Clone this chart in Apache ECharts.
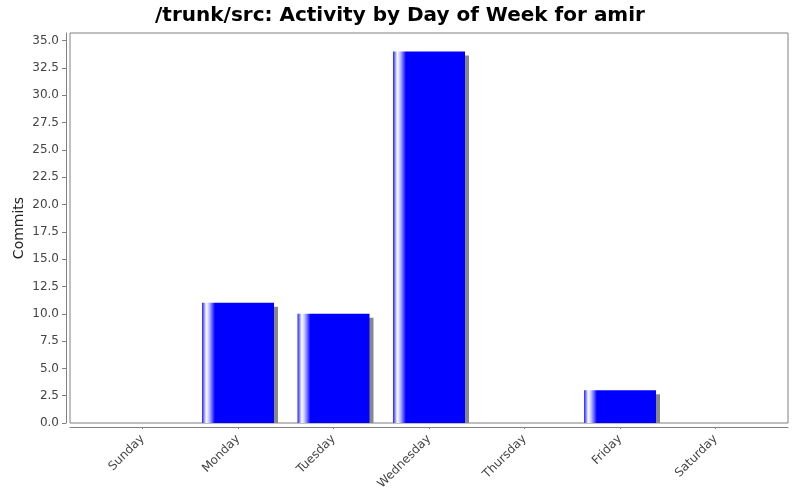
<!DOCTYPE html>
<html>
<head>
<meta charset="utf-8">
<script src="https://cdn.jsdelivr.net/npm/echarts@6/dist/echarts.min.js"></script>
<style>html,body{margin:0;padding:0;background:#fff}#c{width:800px;height:500px}</style>
</head>
<body>
<div id="c"></div>
<script>
const categories = ['Sunday', 'Monday', 'Tuesday', 'Wednesday', 'Thursday', 'Friday', 'Saturday'];
const commits = [0, 11, 10, 34, 0, 3, 0];
const yTicks = [0, 2.5, 5, 7.5, 10, 12.5, 15, 17.5, 20, 22.5, 25, 27.5, 30, 32.5, 35];
const yMax = 35.7;

const font = 'DejaVu Sans';
const barFill = new echarts.graphic.LinearGradient(0, 0, 1, 0, [
  { offset: 0, color: '#2020ff' },
  { offset: 0.06, color: '#ffffff' },
  { offset: 0.1, color: '#c0c0ff' },
  { offset: 0.18, color: '#0000ff' },
  { offset: 1, color: '#0000ff' }
]);

function renderBar(params, api) {
  const idx = api.value(0);
  const val = api.value(1);
  if (!val) return null;
  const top = api.coord([idx, val]);
  const base = api.coord([idx, 0]);
  const band = api.size([1, 0])[0];
  const w = band * 0.754;
  const x = top[0] - w / 2;
  const h = base[1] - top[1];
  return {
    type: 'group',
    children: [
      { type: 'rect', shape: { x: x + 4, y: top[1] + 4, width: w, height: Math.max(h - 4, 0) },
        style: { fill: '#888888' } },
      { type: 'rect', shape: { x: x, y: top[1], width: w, height: h },
        style: { fill: barFill } }
    ]
  };
}

const chart = echarts.init(document.getElementById('c'));
chart.setOption({
  animation: false,
  backgroundColor: '#ffffff',
  title: {
    text: '/trunk/src: Activity by Day of Week for amir',
    left: 'center', top: 1,
    textStyle: { fontFamily: font, fontSize: 20, fontWeight: 'bold', color: '#000' }
  },
  grid: [
    { left: 70, right: 12, top: 33, bottom: 77, show: true, borderColor: '#808080', borderWidth: 1, backgroundColor: '#fff' },
    { left: 94.75, right: 36.75, top: 33, bottom: 77 }
  ],
  xAxis: [
    { gridIndex: 0, type: 'value', min: 0, max: 1, offset: 4,
      axisLine: { show: true, onZero: false, lineStyle: { color: '#808080', width: 1 } },
      axisTick: { show: false }, axisLabel: { show: false }, splitLine: { show: false } },
    { gridIndex: 1, type: 'category', data: categories, offset: 4,
      axisLine: { show: false, onZero: false },
      axisTick: { show: true, alignWithLabel: true, length: 2, lineStyle: { color: '#808080' } },
      axisLabel: { rotate: 45, margin: 10, fontFamily: font, fontSize: 12, color: '#444' } }
  ],
  yAxis: [
    { gridIndex: 0, type: 'value', min: 0, max: yMax, offset: 4,
      name: 'Commits', nameLocation: 'middle', nameGap: 40, nameMoveOverlap: false,
      nameTextStyle: { fontFamily: font, fontSize: 14, color: '#222' },
      axisLine: { show: true, onZero: false, lineStyle: { color: '#808080', width: 1 } },
      axisTick: { show: true, length: 4, customValues: yTicks, lineStyle: { color: '#808080' } },
      axisLabel: { customValues: yTicks, margin: 7, fontFamily: font, fontSize: 12, color: '#444',
        formatter: v => v.toFixed(1) },
      splitLine: { show: false } },
    { gridIndex: 1, type: 'value', min: 0, max: yMax, show: false, splitLine: { show: false } }
  ],
  series: [{
    type: 'custom', xAxisIndex: 1, yAxisIndex: 1,
    renderItem: renderBar,
    encode: { x: 0, y: 1 },
    data: commits.map((v, i) => [i, v])
  }]
});
</script>
</body>
</html>
